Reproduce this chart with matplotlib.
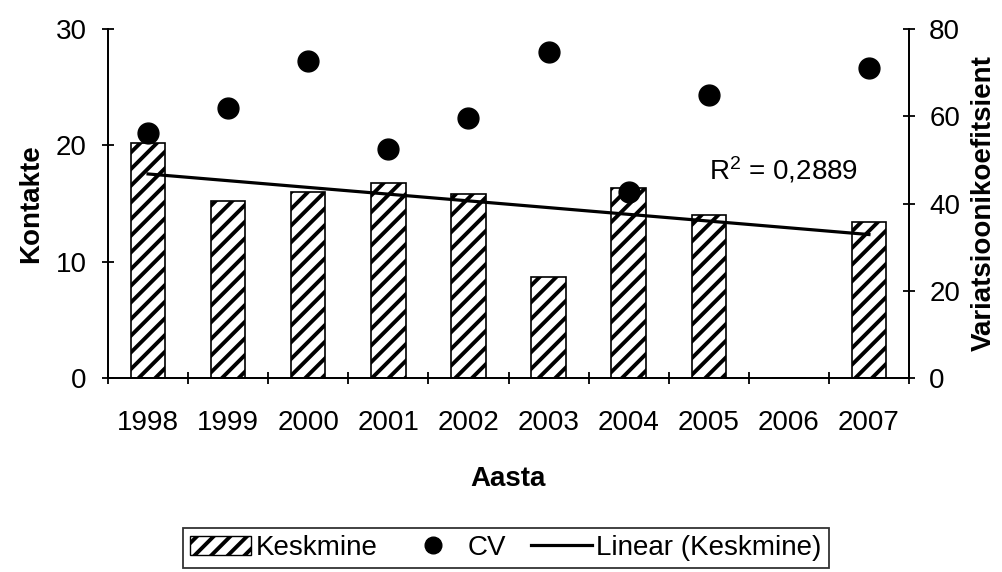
import numpy as np
import matplotlib
matplotlib.use("Agg")
import matplotlib.pyplot as plt
from matplotlib.patches import Patch
from matplotlib.lines import Line2D

plt.rcParams['font.family'] = ['Liberation Sans', 'DejaVu Sans']
plt.rcParams['mathtext.fontset'] = 'custom'
plt.rcParams['mathtext.rm'] = 'Liberation Sans'
plt.rcParams['mathtext.it'] = 'Liberation Sans'
plt.rcParams['hatch.linewidth'] = 2.8

# data
years = ['1998', '1999', '2000', '2001', '2002', '2003', '2004', '2005', '2006', '2007']
keskmine = [20.2, 15.2, 16.0, 16.8, 15.8, 8.65, 16.35, 14.05, np.nan, 13.4]
cv = [56.1, 61.8, 72.6, 52.4, 59.7, 74.8, 42.6, 64.8, np.nan, 71.1]
r2_label = 'R$^2$ = 0,2889'

FS = 20

x = np.arange(len(years))
kesk = np.array(keskmine)
ok = ~np.isnan(kesk)
slope, icpt = np.polyfit(x[ok], kesk[ok], 1)

fig = plt.figure(figsize=(10.03, 5.72), dpi=100)
ax = fig.add_axes([108 / 1003, 1 - 378 / 572, (909 - 108) / 1003, (378 - 29) / 572])
ax2 = ax.twinx()

ax.bar(x, np.nan_to_num(kesk), width=0.43, color='white', edgecolor='black',
       linewidth=1.2, hatch='//', zorder=2)
ax.plot([x[0], x[-1]], [icpt + slope * x[0], icpt + slope * x[-1]],
        color='black', lw=2.3, zorder=3)
ax2.plot(x, cv, 'o', color='black', ms=15, zorder=4)

ax.set_xlim(-0.5, 9.5)
ax.set_ylim(0, 30)
ax2.set_ylim(0, 80)
ax.set_yticks([0, 10, 20, 30])
ax2.set_yticks([0, 20, 40, 60, 80])
ax.set_xticks(x)
ax.set_xticklabels(years)
ax.set_xticks(np.arange(-0.5, 10, 1), minor=True)
ax.tick_params(axis='x', which='major', length=0, pad=23, labelsize=FS)
ax.tick_params(axis='x', which='minor', length=9, width=1.3, direction='inout')
ax.tick_params(axis='y', length=9, width=1.3, direction='inout', labelsize=FS, pad=11)
ax2.tick_params(axis='y', length=9, width=1.3, direction='inout', labelsize=FS, pad=10)

for a in (ax, ax2):
    a.spines['top'].set_visible(False)
    for s in ('left', 'right', 'bottom'):
        a.spines[s].set_linewidth(1.3)
ax.set_zorder(ax2.get_zorder() - 1)
ax.patch.set_visible(False)

ax.set_xlabel('Aasta', fontsize=FS, fontweight='bold', labelpad=22)
ax.set_ylabel('Kontakte', fontsize=FS, fontweight='bold', labelpad=8)
ax2.set_ylabel('Variatsioonikoefitsient', fontsize=FS, fontweight='bold', labelpad=8)

ax.text(7.0, 17.9, r2_label, fontsize=FS, ha='left', va='center')

handles = [Patch(facecolor='white', edgecolor='black', hatch='//', label='Keskmine'),
           Line2D([], [], ls='none', marker='o', color='black', ms=12, label='CV'),
           Line2D([], [], color='black', lw=2.3, label='Linear (Keskmine)')]
leg = fig.legend(handles=handles, loc='center', bbox_to_anchor=(506 / 1003, 1 - 548 / 572),
                 ncol=3, fontsize=FS, frameon=True, fancybox=False, edgecolor='black',
                 handlelength=2.2, handletextpad=0.15, columnspacing=0.9, borderpad=0.25)
leg.get_frame().set_linewidth(1.3)

fig.savefig('out.png', dpi=100)
